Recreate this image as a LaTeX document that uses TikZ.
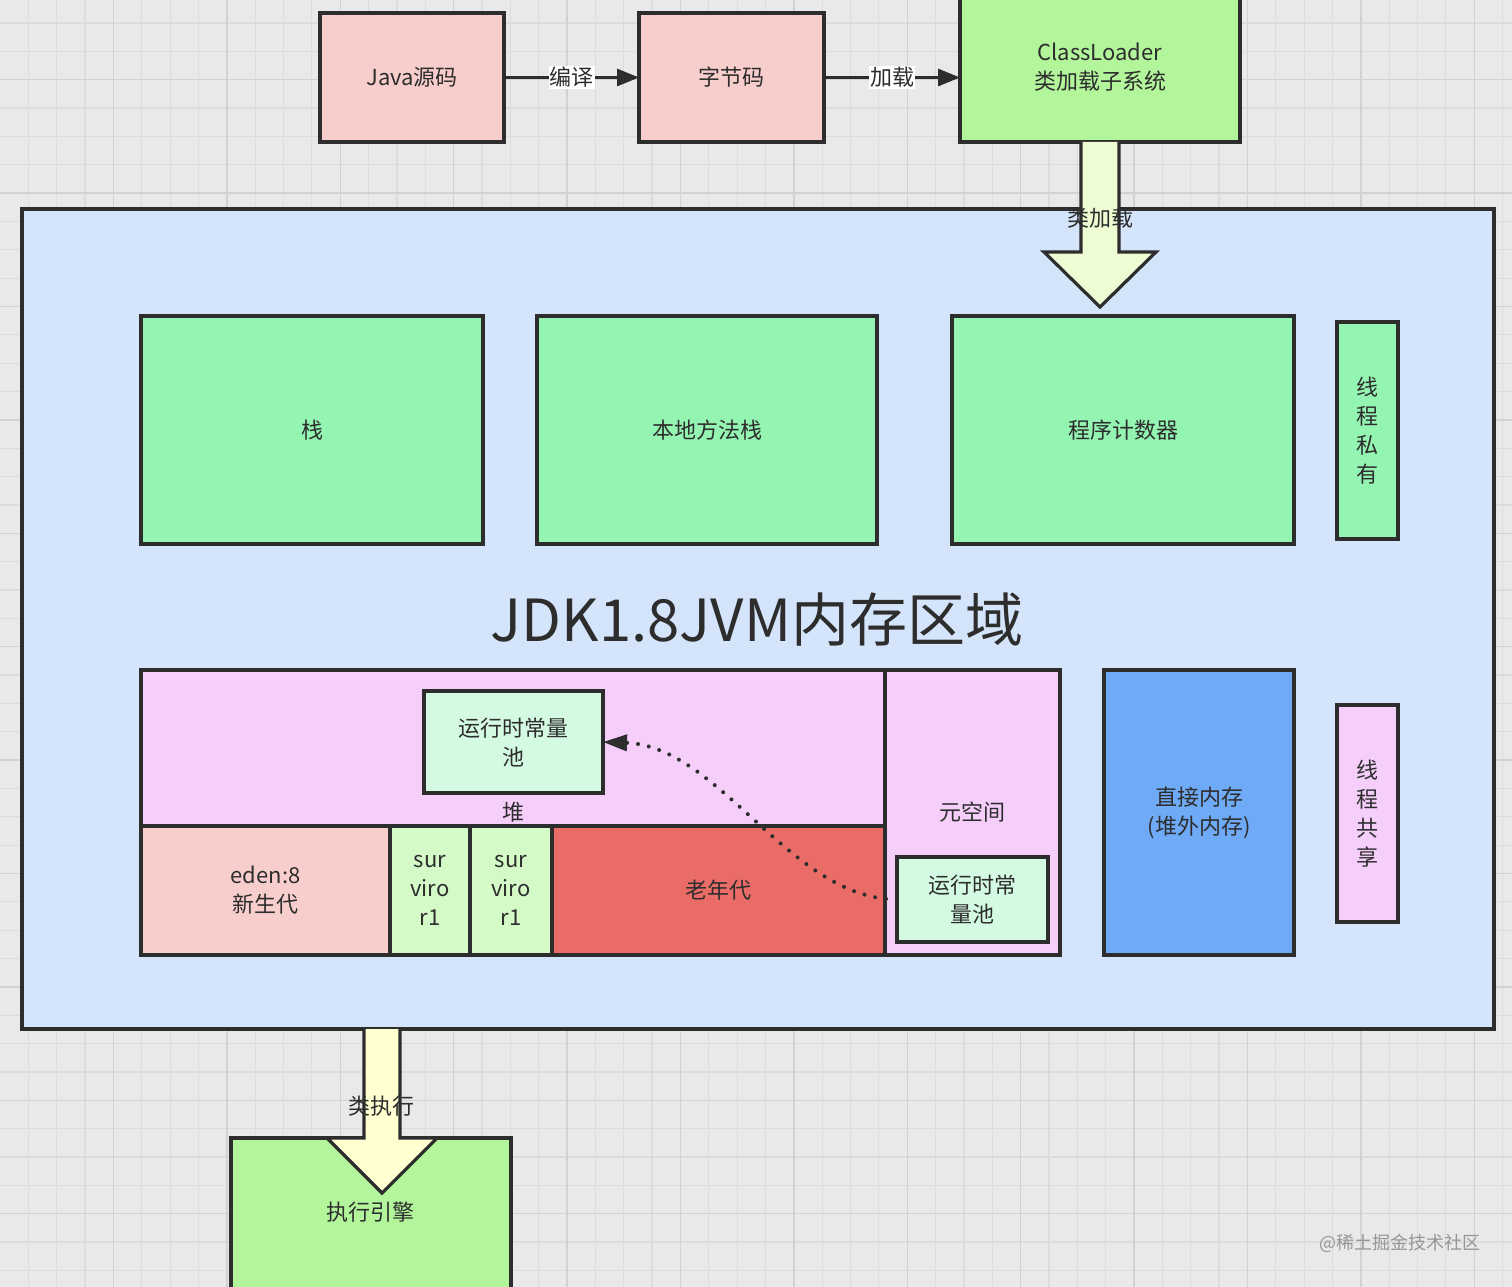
\documentclass[tikz,border=0pt]{standalone}
\usepackage{fontspec}
\setmainfont{Noto Sans CJK SC}
\usetikzlibrary{arrows.meta}
\definecolor{bg}{RGB}{233,233,233}
\definecolor{gridc}{RGB}{220,220,220}
\definecolor{gridm}{RGB}{210,210,210}
\definecolor{pinkc}{RGB}{248,206,204}
\definecolor{lgreen}{RGB}{178,245,155}
\definecolor{mint}{RGB}{148,245,178}
\definecolor{jvmblue}{RGB}{212,228,250}
\definecolor{heappink}{RGB}{245,206,250}
\definecolor{poolmint}{RGB}{212,250,226}
\definecolor{survg}{RGB}{212,250,200}
\definecolor{oldred}{RGB}{234,108,102}
\definecolor{directblue}{RGB}{110,170,245}
\definecolor{arrowy}{RGB}{238,252,212}
\definecolor{arrowy2}{RGB}{255,255,210}
\definecolor{txt}{RGB}{45,45,45}
\definecolor{edge}{RGB}{45,45,45}
\definecolor{wm}{RGB}{150,150,150}
\begin{document}
\begin{tikzpicture}[x=1pt,y=-1pt,
  box/.style={draw=edge, line width=3.2pt, inner sep=0pt, outer sep=0pt, text=txt, align=center,
    font=\fontsize{22}{29}\selectfont},
  lbl/.style={inner sep=1pt, text=txt, font=\fontsize{22}{29}\selectfont},
  flow/.style={draw=edge, line width=3pt, -{Triangle[length=22pt,width=17pt]}},
  blockarrow/.style={draw=edge, line width=3.2pt, line join=miter},
]
\useasboundingbox (0,0) rectangle (1512,1287);
\clip (0,0) rectangle (1512,1287);
\fill[bg] (0,0) rectangle (1512,1287);
\foreach \i in {1,...,53} {
  \draw[gridc, line width=1.2pt] (\i*28.35,0) -- (\i*28.35,1287);
}
\foreach \i in {-1,...,45} {
  \draw[gridc, line width=1.2pt] (0,23+\i*28.35) -- (1512,23+\i*28.35);
}
\foreach \i in {4,8,...,52} {
  \draw[gridm, line width=1.4pt] (\i*28.35,0) -- (\i*28.35,1287);
}
\foreach \i in {-2,2,...,44} {
  \draw[gridm, line width=1.4pt] (0,23+\i*28.35) -- (1512,23+\i*28.35);
}

% top row
\node[box, fill=pinkc, minimum width=184pt, minimum height=129pt] (java) at (412,77.5) {Java源码};
\node[box, fill=pinkc, minimum width=185pt, minimum height=129pt] (bytecode) at (731.5,77.5) {字节码};
\node[box, fill=lgreen, minimum width=280pt, minimum height=150pt] (cl) at (1100,67) {ClassLoader\\类加载子系统};
\draw[flow] (java.east) -- node[lbl, fill=white] (bianyi) {编译} (bytecode.west);
\draw[flow] (bytecode.east) -- node[lbl, fill=white] (jiazai) {加载} (bytecode.east -| cl.west);

% JVM area
\node[box, fill=jvmblue, minimum width=1472pt, minimum height=820pt] (jvm) at (758,619) {};
\node[text=txt, font=\fontsize{58}{60}\selectfont] (title) at (757,620) {JDK1.8JVM内存区域};

% thread private
\node[box, fill=mint, minimum width=342pt, minimum height=228pt] (stack) at (312,430) {栈};
\node[box, fill=mint, minimum width=340pt, minimum height=228pt] (native) at (707,430) {本地方法栈};
\node[box, fill=mint, minimum width=342pt, minimum height=228pt] (pc) at (1123,430) {程序计数器};
\node[box, fill=mint, minimum width=61pt, minimum height=217pt] (private) at (1367.5,430.5) {线\\程\\私\\有};

% heap
\node[box, fill=heappink, minimum width=744pt, minimum height=285pt] (heap) at (513,812.5) {堆};
\node[box, fill=poolmint, minimum width=179pt, minimum height=102pt] (pool1) at (513.5,742) {运行时常量\\池};
\node[box, fill=pinkc, minimum width=249pt, minimum height=129pt] (eden) at (265.5,890.5) {eden:8\\新生代};
\node[box, fill=survg, minimum width=80pt, minimum height=129pt] (sur1) at (430,890.5) {sur\\viro\\r1};
\node[box, fill=survg, minimum width=82pt, minimum height=129pt] (sur2) at (511,890.5) {sur\\viro\\r1};
\node[box, fill=oldred, minimum width=333pt, minimum height=129pt] (old) at (718.5,890.5) {老年代};

% metaspace
\node[box, fill=heappink, minimum width=175pt, minimum height=285pt] (meta) at (972.5,812.5) {元空间};
\node[box, fill=poolmint, minimum width=151pt, minimum height=85pt] (pool2) at (972.5,899.5) {运行时常\\量池};

% direct memory
\node[box, fill=directblue, minimum width=190pt, minimum height=285pt] (direct) at (1199,812.5) {直接内存\\(堆外内存)};
\node[box, fill=heappink, minimum width=61pt, minimum height=217pt] (shared) at (1367.5,813.5) {线\\程\\共\\享};

% dotted reference
\draw[draw=edge, line width=4pt, line cap=round, dash pattern=on 0pt off 11pt,
  -{Triangle[length=24pt,width=16pt]}]
  (pool2.west) .. controls (790,899) and (720,746) .. (pool1.east);

% class loading block arrow
\draw[blockarrow, fill=arrowy] (1081,142) -- (1081,252) -- (1044,252) -- (1100,307)
  -- (1156,252) -- (1119,252) -- (1119,142);
\node[lbl] (leijiazai) at (1100,218) {类加载};

% execution engine
\node[box, fill=lgreen, minimum width=280pt, minimum height=160pt] (engine) at (371,1218) {};
\node[lbl] (enginetext) at (370,1212) {执行引擎};
\draw[blockarrow, fill=arrowy2] (364,1029) -- (364,1138) -- (327,1138) -- (382,1193)
  -- (437,1138) -- (400,1138) -- (400,1029);
\node[lbl] (leizhixing) at (381,1106) {类执行};

% watermark
\node[text=wm, font=\fontsize{18}{20}\selectfont] (watermark) at (1400,1243) {@稀土掘金技术社区};
\end{tikzpicture}
\end{document}
